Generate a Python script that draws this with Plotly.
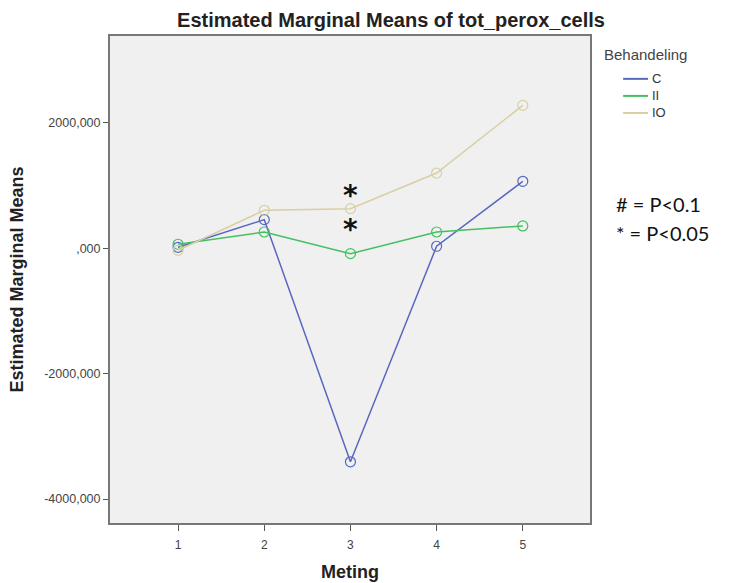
import plotly.graph_objects as go

meting = [1, 2, 3, 4, 5]
groups = ["C", "II", "IO"]
values_C = [16, 457, -3406, 32, 1068]
values_II = [64, 260, -85, 260, 356]
values_IO = [-32, 606, 632, 1200, 2280]
colors = {"C": "#5868c0", "II": "#44c060", "IO": "#d8cfa2"}
y_tickvals = [2000, 0, -2000, -4000]
y_ticktext = ["2000,000", ",000", "-2000,000", "-4000,000"]
x_ticks = [1, 2, 3, 4, 5]
star_x = 3
star_y = [913, 367]
legend_title = "Behandeling"
pvalue_notes = ["# = P&lt;0.1", "* = P&lt;0.05"]

series = {"C": values_C, "II": values_II, "IO": values_IO}

fig = go.Figure()
for g in groups:
    fig.add_trace(go.Scatter(
        x=meting, y=series[g], mode="lines+markers", name=g,
        line=dict(color=colors[g], width=1.5),
        marker=dict(symbol="circle-open", size=10, color=colors[g], line=dict(width=1.2)),
        showlegend=False))

# manual legend
fig.add_annotation(x=1.025, y=0.963, xref="paper", yref="paper", xanchor="left", yanchor="middle",
                   text=legend_title, showarrow=False,
                   font=dict(family="Liberation Sans", size=15, color="#444444"))
leg_y = [0.912, 0.877, 0.842]
for g, ly in zip(groups, leg_y):
    fig.add_shape(type="line", xref="paper", yref="paper", x0=1.069, x1=1.121, y0=ly, y1=ly,
                  line=dict(color=colors[g], width=2))
    fig.add_annotation(x=1.124, y=ly, xref="paper", yref="paper", xanchor="left", yanchor="middle",
                       text=g, showarrow=False,
                       font=dict(family="Liberation Sans", size=13, color="#333333"))

for sy in star_y:
    fig.add_annotation(x=star_x, y=sy, xref="x", yref="y", text="<b>*</b>", showarrow=False,
                       font=dict(family="DejaVu Sans", size=28, color="#111111"),
                       yanchor="middle", yshift=-4)

for note, py in zip(pvalue_notes, [0.655, 0.595]):
    fig.add_annotation(x=1.05, y=py, xref="paper", yref="paper", xanchor="left", yanchor="middle",
                       text=note, showarrow=False,
                       font=dict(family="Lato", size=20, color="#111111"))

fig.update_layout(
    width=742, height=583,
    margin=dict(l=110, r=152, t=36, b=60),
    paper_bgcolor="white", plot_bgcolor="#f0f0f0",
    showlegend=False,
    title=dict(text="<b>Estimated Marginal Means of tot_perox_cells</b>", x=0.527, xanchor="center",
               y=0.966, yanchor="middle",
               font=dict(family="Liberation Sans", size=20, color="#222222")),
    xaxis=dict(range=[0.21, 5.78], tickvals=x_ticks, ticks="outside", ticklen=6, tickcolor="#555555",
               showline=True, linecolor="#777777", linewidth=2, mirror=True, showgrid=False, zeroline=False,
               ticklabelstandoff=4, automargin=False,
               tickfont=dict(family="Liberation Sans", size=12, color="#444444"),
               title=dict(text="<b>Meting</b>", font=dict(family="Liberation Sans", size=18, color="#222222"),
                          standoff=14)),
    yaxis=dict(range=[-4382, 3386], tickvals=y_tickvals, ticktext=y_ticktext, ticks="outside", ticklen=5,
               tickcolor="#555555", showline=True, linecolor="#777777", linewidth=2, mirror=True,
               showgrid=False, zeroline=False, automargin=False,
               tickfont=dict(family="Liberation Sans", size=12.5, color="#444444"),
               title=dict(text="<b>Estimated Marginal Means</b>",
                          font=dict(family="Liberation Sans", size=18, color="#222222"), standoff=16)),
)

fig.write_html("out.html")
